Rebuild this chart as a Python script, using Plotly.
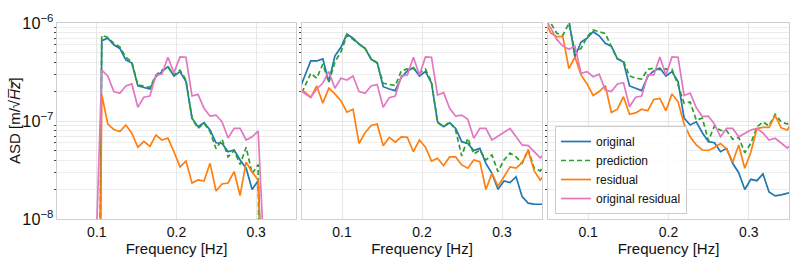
import plotly.graph_objects as go

# Frequency grid [Hz]
freq = [0.0458, 0.05335, 0.0609, 0.06845, 0.076, 0.08355, 0.0911, 0.09865, 0.1062, 0.11375,
        0.1213, 0.12885, 0.1364, 0.14395, 0.1515, 0.15905, 0.1666, 0.17415, 0.1817, 0.18925,
        0.1968, 0.20435, 0.2119, 0.21945, 0.227, 0.23455, 0.2421, 0.24965, 0.2572, 0.26475,
        0.2723, 0.27985, 0.2874, 0.29495, 0.3025, 0.31005, 0.3176, 0.32515, 0.3327, 0.34025,
        0.3478, 0.35535]

# Panel 1 (band-limited; 1e-14 = outside band)
p1_original = [1e-14, 1e-14, 1e-14, 1e-14, 1e-14, 1e-14, 1e-14, 1e-14,
               6.6e-7, 7.0e-7, 6.0e-7, 5.5e-7, 4.2e-7, 3.9e-7, 2.28e-7, 2.2e-7, 2.12e-7, 2.83e-7,
               3.19e-7, 3.58e-7, 2.88e-7, 3.19e-7, 2.52e-7, 1.07e-7, 8.75e-8, 9.6e-8, 8.1e-8, 6.0e-8,
               5.9e-8, 4.86e-8, 5.06e-8, 4.0e-8, 3.3e-8, 2.0e-8, 2.46e-8,
               1e-14, 1e-14, 1e-14, 1e-14, 1e-14, 1e-14, 1e-14]
p1_prediction = [1e-14, 1e-14, 1e-14, 1e-14, 1e-14, 1e-14, 1e-14, 1e-14,
                 7.5e-7, 7.1e-7, 6.2e-7, 5.7e-7, 4.47e-7, 4.0e-7, 2.33e-7, 2.28e-7, 2.2e-7, 2.95e-7,
                 3.3e-7, 3.58e-7, 2.95e-7, 3.3e-7, 2.62e-7, 1.07e-7, 8.4e-8, 9.5e-8, 7.8e-8, 5.2e-8,
                 6.5e-8, 4.3e-8, 5.0e-8, 3.6e-8, 5.4e-8, 2.9e-8, 3.6e-8,
                 1e-14, 1e-14, 1e-14, 1e-14, 1e-14, 1e-14, 1e-14]
p1_residual = [1e-14, 1e-14, 1e-14, 1e-14, 1e-14, 1e-14, 1e-14, 1e-14,
               1.86e-7, 9.3e-8, 8.2e-8, 7.8e-8, 9.1e-8, 7.5e-8, 5.4e-8, 6.2e-8, 5.5e-8, 7.2e-8,
               6.4e-8, 6.7e-8, 4.86e-8, 3.4e-8, 3.9e-8, 2.33e-8, 2.5e-8, 2.44e-8, 3.7e-8, 1.93e-8,
               2.28e-8, 2.33e-8, 3.05e-8, 1.74e-8, 3.8e-8, 3.0e-8, 2.5e-8,
               1e-14, 1e-14, 1e-14, 1e-14, 1e-14, 1e-14, 1e-14]
p1_orig_residual = [1e-14, 1e-14, 1e-14, 1e-14, 1e-14, 1e-14, 1e-14, 4e-9,
                    3.3e-7, 2.88e-7, 2.0e-7, 1.92e-7, 2.28e-7, 2.39e-7, 1.38e-7, 1.75e-7, 1.8e-7, 2.95e-7,
                    3.0e-7, 4.47e-7, 3.1e-7, 4.5e-7, 4.47e-7, 1.8e-7, 1.87e-7, 1.35e-7, 1.12e-7, 1.15e-7,
                    9.8e-8, 6.7e-8, 8.4e-8, 8.4e-8, 6.4e-8, 6.9e-8, 7.9e-8,
                    4e-9, 1e-14, 1e-14, 1e-14, 1e-14, 1e-14, 1e-14]

# Panel 2
p2_original = [2.0e-7, 2.88e-7, 4.1e-7, 4.1e-7, 4.3e-7, 2.52e-7, 4.6e-7, 5.65e-7, 7.7e-7, 7.0e-7,
               6.1e-7, 5.5e-7, 4.26e-7, 3.94e-7, 2.24e-7, 2.12e-7, 2.04e-7, 2.79e-7, 3.24e-7, 3.5e-7,
               2.88e-7, 3.19e-7, 2.43e-7, 9.8e-8, 8.75e-8, 9.6e-8, 8.4e-8, 6.15e-8, 5.9e-8, 5.0e-8,
               5.26e-8, 3.7e-8, 2.92e-8, 2.01e-8, 2.44e-8, 2.35e-8, 2.7e-8, 1.69e-8, 1.45e-8, 1.42e-8,
               1.42e-8, 1.41e-8]
p2_prediction = [1.64e-7, 2.28e-7, 3.07e-7, 2.73e-7, 3.8e-7, 2.47e-7, 4.0e-7, 5.06e-7, 7.5e-7, 6.8e-7,
                 6.1e-7, 5.5e-7, 4.36e-7, 3.88e-7, 2.43e-7, 2.37e-7, 2.3e-7, 3.24e-7, 3.4e-7, 3.45e-7,
                 3.09e-7, 3.37e-7, 2.5e-7, 9.6e-8, 8.75e-8, 9.8e-8, 8.0e-8, 4.4e-8, 6.66e-8, 4.6e-8,
                 5.06e-8, 4.0e-8, 4.5e-8, 3.04e-8, 4.0e-8, 4.7e-8, 4.3e-8, 3.7e-8, 5.1e-8, 3.3e-8,
                 3.1e-8, 3.7e-8]
p2_residual = [2.17e-7, 1.98e-7, 1.74e-7, 2.28e-7, 1.52e-7, 2.16e-7, 1.89e-7, 1.61e-7, 1.23e-7, 1.32e-7,
               5.9e-8, 7.6e-8, 9.0e-8, 9.3e-8, 5.6e-8, 6.8e-8, 6.1e-8, 6.9e-8, 6.8e-8, 4.86e-8,
               6.4e-8, 5.4e-8, 3.9e-8, 4.16e-8, 3.5e-8, 4.3e-8, 4.3e-8, 3.56e-8, 3.3e-8, 4.0e-8,
               3.85e-8, 2.0e-8, 2.92e-8, 2.17e-8, 2.7e-8, 3.4e-8, 3.3e-8, 3.75e-8, 5.0e-8, 3.1e-8,
               2.5e-8, 2.95e-8]
p2_orig_residual = [2.17e-7, 1.91e-7, 1.74e-7, 2.12e-7, 2.44e-7, 3.19e-7, 2.16e-7, 2.73e-7, 2.62e-7, 2.88e-7,
                    2.0e-7, 1.92e-7, 2.28e-7, 2.36e-7, 1.38e-7, 1.73e-7, 1.8e-7, 2.88e-7, 2.95e-7, 4.47e-7,
                    2.95e-7, 4.5e-7, 4.47e-7, 1.84e-7, 1.95e-7, 1.35e-7, 1.12e-7, 1.15e-7, 1.04e-7, 6.66e-8,
                    8.4e-8, 8.4e-8, 6.4e-8, 7.0e-8, 7.7e-8, 8.4e-8, 6.9e-8, 5.7e-8, 5.6e-8, 4.8e-8,
                    4.2e-8, 4.8e-8]

# Panel 3
p3_original = [1.25e-6, 1.2e-6, 1.15e-6, 1.2e-6, 1.07e-6, 4.5e-7, 6.4e-7, 7.0e-7, 8.15e-7, 7.4e-7,
               6.2e-7, 5.8e-7, 4.3e-7, 4.0e-7, 2.28e-7, 2.16e-7, 2.04e-7, 2.85e-7, 3.24e-7, 3.47e-7,
               2.88e-7, 3.19e-7, 2.52e-7, 1.07e-7, 9.1e-8, 9.8e-8, 7.6e-8, 6.15e-8, 6.0e-8, 4.86e-8,
               5.26e-8, 3.7e-8, 2.97e-8, 2.0e-8, 2.54e-8, 2.46e-8, 2.88e-8, 1.89e-8, 1.72e-8, 1.76e-8,
               1.84e-8, 1.89e-8]
p3_prediction = [9.3e-7, 1.0e-6, 7.85e-7, 7.5e-7, 9.9e-7, 5.1e-7, 5.5e-7, 7.2e-7, 8.5e-7, 8.15e-7,
                 7.8e-7, 5.73e-7, 4.3e-7, 4.1e-7, 2.88e-7, 2.73e-7, 2.68e-7, 3.37e-7, 3.45e-7, 3.35e-7,
                 3.4e-7, 3.37e-7, 2.33e-7, 1.52e-7, 1.56e-7, 1.02e-7, 1.07e-7, 6.3e-8, 8.9e-8, 8.0e-8,
                 8.0e-8, 6.5e-8, 6.8e-8, 4.75e-8, 5.9e-8, 8.7e-8, 9.8e-8, 8.9e-8, 1.17e-7, 9.8e-8,
                 9.3e-8, 1.12e-7]
p3_residual = [1.07e-6, 7.9e-7, 7.25e-7, 7.25e-7, 3.43e-7, 4.5e-7, 2.95e-7, 2.39e-7, 1.82e-7, 2.0e-7,
               2.3e-7, 1.22e-7, 1.32e-7, 1.77e-7, 1.17e-7, 1.21e-7, 1.32e-7, 1.27e-7, 1.66e-7, 1.7e-7,
               1.27e-7, 1.89e-7, 1.57e-7, 9.3e-8, 6.9e-8, 5.7e-8, 5.06e-8, 5.0e-8, 5.37e-8, 5.9e-8,
               5.18e-8, 3.8e-8, 5.7e-8, 3.3e-8, 4.8e-8, 8.4e-8, 8.6e-8, 8.6e-8, 1.14e-7, 8.5e-8,
               8.1e-8, 1.02e-7]
p3_orig_residual = [1.07e-6, 8.9e-7, 6.8e-7, 5.8e-7, 5.4e-7, 5.8e-7, 3.07e-7, 3.19e-7, 2.83e-7, 3.0e-7,
                    2.07e-7, 2.0e-7, 2.39e-7, 2.46e-7, 1.4e-7, 1.75e-7, 1.8e-7, 2.95e-7, 2.95e-7, 4.5e-7,
                    2.95e-7, 4.5e-7, 4.47e-7, 1.82e-7, 1.93e-7, 1.37e-7, 1.11e-7, 1.12e-7, 9.3e-8, 6.9e-8,
                    8.4e-8, 8.4e-8, 6.9e-8, 7.55e-8, 8.1e-8, 8.4e-8, 7.55e-8, 6.4e-8, 6.66e-8, 5.96e-8,
                    5.3e-8, 6.1e-8]

series_names = ["original", "prediction", "residual", "original residual"]
colors = ["#1f77b4", "#2ca02c", "#ff7f0e", "#e377c2"]
dashes = ["solid", "5px,3px", "solid", "solid"]
panels = [
    [p1_original, p1_prediction, p1_residual, p1_orig_residual],
    [p2_original, p2_prediction, p2_residual, p2_orig_residual],
    [p3_original, p3_prediction, p3_residual, p3_orig_residual],
]

FONT = "Liberation Sans, Arial, Helvetica, sans-serif"
fig = go.Figure()

W, H = 793, 264
L, R, T, B = 57, 4, 23, 45
pw = W - L - R
ph = H - T - B
px_dom = [(57, 296), (302, 542), (548, 789)]
domains = [[(a - L) / pw, (b - L) / pw] for a, b in px_dom]

for p, data in enumerate(panels):
    xa = "x" if p == 0 else f"x{p+1}"
    ya = "y" if p == 0 else f"y{p+1}"
    for s, vals in enumerate(data):
        fig.add_trace(go.Scatter(
            x=freq, y=vals, mode="lines", name=series_names[s],
            line=dict(color=colors[s], width=1.7, dash=dashes[s]),
            xaxis=xa, yaxis=ya, showlegend=(p == 2), legendgroup=series_names[s],
            hoverinfo="skip"))

grid_c = "#e6e6e6"
frame_c = "#cfcfcf"
layout = dict(
    width=W, height=H,
    margin=dict(l=L, r=R, t=T, b=B, autoexpand=False),
    paper_bgcolor="white", plot_bgcolor="white",
    font=dict(family=FONT, size=14, color="#111"),
    legend=dict(x=(555 - L) / pw, y=(219 - 214) / ph, xanchor="left", yanchor="bottom",
                bgcolor="rgba(255,255,255,0.85)", bordercolor="#cccccc", borderwidth=1,
                font=dict(family=FONT, size=12, color="#111"), itemwidth=30,
                tracegroupgap=0),
    annotations=[dict(text="ASD [m/\u221a<i>H\u0305z\u0305</i>]", xref="paper", yref="paper",
                      x=(14 - L) / pw, y=0.5, xanchor="center", yanchor="middle",
                      textangle=-90, showarrow=False, font=dict(family=FONT, size=15, color="#111"))],
)
for p in range(3):
    xk = "xaxis" if p == 0 else f"xaxis{p+1}"
    yk = "yaxis" if p == 0 else f"yaxis{p+1}"
    layout[xk] = dict(
        domain=domains[p], range=[0.05, 0.35], anchor="y" if p == 0 else f"y{p+1}",
        tickvals=[0.1, 0.2, 0.3], ticktext=["0.1", "0.2", "0.3"],
        showgrid=True, gridcolor=grid_c, gridwidth=1, zeroline=False,
        showline=True, linecolor=frame_c, linewidth=1, mirror=True, ticks="",
        automargin=True,
        tickfont=dict(size=14), title=dict(text="Frequency [Hz]", font=dict(size=15), standoff=0),
    )
    layout[yk] = dict(
        type="log", range=[-8, -6], dtick=1, exponentformat="power",
        anchor="x" if p == 0 else f"x{p+1}", automargin=False,
        showgrid=True, gridcolor=grid_c, gridwidth=1, zeroline=False,
        showline=True, linecolor=frame_c, linewidth=1, mirror=True,
        ticks="", showticklabels=(p == 0), tickfont=dict(size=13),
        minor=dict(dtick="D1", showgrid=True, gridcolor="#ececec", ticks="outside",
                   ticklen=2, tickcolor="#444", tickwidth=1),
    )
    if p > 0:
        layout[yk]["matches"] = "y"
fig.update_layout(**layout)

fig.write_html("out.html", config={"displayModeBar": False},
               post_script="document.body.style.margin='0';document.body.style.padding='0';")
